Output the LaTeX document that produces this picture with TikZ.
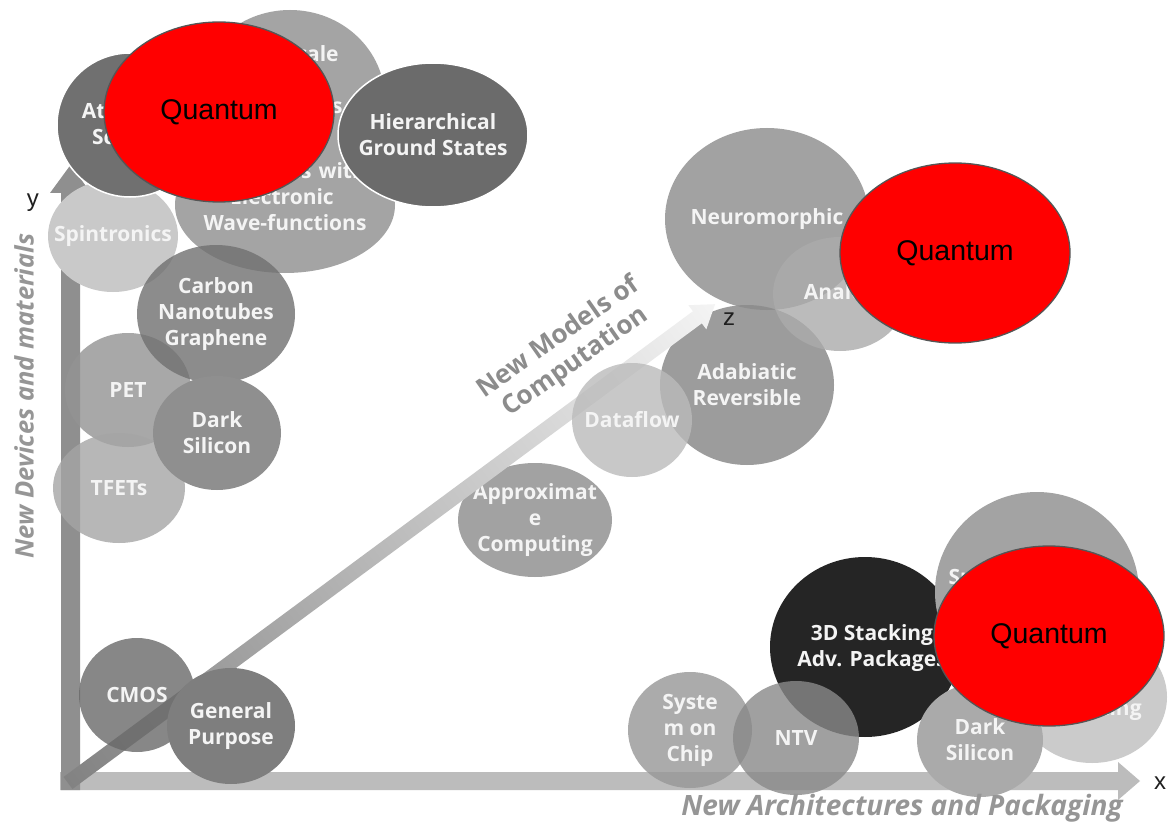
\documentclass[tikz,border=0pt]{standalone}
\usepackage{fontspec}
\setmainfont{Open Sans}
\newfontfamily\qfont{Liberation Sans}
\usetikzlibrary{shapes.geometric}

% grey levels of the bubbles
\definecolor{bubtext}{RGB}{244,244,244}
\definecolor{qedge}{RGB}{85,85,85}
\definecolor{xaxis}{RGB}{188,188,188}
\definecolor{yaxis}{RGB}{143,143,143}
\definecolor{zdark}{RGB}{130,130,130}
\definecolor{zlight}{RGB}{244,244,244}
\definecolor{axisgray}{RGB}{150,150,150}
\definecolor{modelgray}{RGB}{140,140,140}
\definecolor{cAtomic}{RGB}{112,112,112}
\definecolor{cLight}{RGB}{164,164,164}
\definecolor{cHier}{RGB}{107,107,107}
\definecolor{cSpin}{RGB}{201,201,201}
\definecolor{cCarbon}{RGB}{112,112,112}
\definecolor{cPET}{RGB}{147,147,147}
\definecolor{cDarkL}{RGB}{143,143,143}
\definecolor{cTFET}{RGB}{165,165,165}
\definecolor{cCMOS}{RGB}{105,105,105}
\definecolor{cGP}{RGB}{126,126,126}
\definecolor{cApprox}{RGB}{139,139,139}
\definecolor{cData}{RGB}{187,187,187}
\definecolor{cAdab}{RGB}{132,132,132}
\definecolor{cNeuro}{RGB}{139,139,139}
\definecolor{cAnalog}{RGB}{171,171,171}
\definecolor{cSoC}{RGB}{151,151,151}
\definecolor{cNTV}{RGB}{137,137,137}
\definecolor{c3D}{RGB}{37,37,37}
\definecolor{cSuper}{RGB}{163,163,163}
\definecolor{cCryo}{RGB}{190,190,190}
\definecolor{cDarkR}{RGB}{170,170,170}

\tikzset{
  blob/.style={ellipse, inner sep=0pt, outer sep=0pt},
  lbl/.style={font=\bfseries\fontsize{21}{26}\selectfont, text=bubtext, align=center, inner sep=0pt},
  quantum/.style={ellipse, draw=qedge, line width=1.3pt, fill=red, text=black,
    font=\qfont\fontsize{28.5}{32}\selectfont, inner sep=0pt,
    minimum width=230pt, minimum height=180pt},
  axislbl/.style={font=\bfseries\itshape, text=axisgray, inner sep=0pt},
  letter/.style={font=\qfont\fontsize{24}{26}\selectfont, text=black!88, inner sep=0pt},
}

% name, x, y, x radius, y radius, fill, fill opacity, text
\newcommand{\drawbubble}[8]{%
  \node[blob, fill=#6, fill opacity=#7, minimum width={2*#4pt}, minimum height={2*#5pt}] (#1) at (#2,#3) {};
  \node[lbl] (#1-t) at (#1.center) {#8};}

\begin{document}
\begin{tikzpicture}[x=1pt, y=-1pt]
\useasboundingbox (0,0) rectangle (1168,824);
\fill[white] (0,0) rectangle (1168,824);

% x axis
\fill[xaxis] (60,772) -- (1118,772) -- (1118,762) -- (1140,781) -- (1118,800) -- (1118,790) -- (60,790) -- cycle;
% y axis
\fill[yaxis] (61,790) -- (61,193) -- (50,193) -- (70.5,165) -- (91,193) -- (80,193) -- (80,790) -- cycle;

% devices and materials
\drawbubble{spin}{113}{236}{65}{56}{cSpin}{1}{Spintronics}
\node[blob, fill=cLight, minimum width=190pt, minimum height=180pt] (nano) at (290,100) {};
\node[lbl] (nano-t) at (284,80) {Nanoscale\\Devices\\Assemblies};
\node[blob, fill=cLight, minimum width=220pt, minimum height=136pt] (wave) at (285,205) {};
\node[lbl, text width=200pt] (wave-t) at (285,197) {\hspace*{2pt}Molecules with\\\hspace*{-6pt}Electronic\\Wave-functions};
\node[blob, fill=cAtomic, draw=white, line width=1.5pt, minimum width=146pt, minimum height=144pt] (atomic) at (130,125) {};
\node[lbl] (atomic-t) at (119,124) {Atomic\\Scale};
\node[blob, fill=cHier, draw=white, line width=1.5pt, minimum width=190pt, minimum height=144pt] (hier) at (433,135) {};
\node[lbl] (hier-t) at (hier.center) {Hierarchical\\Ground States};
\drawbubble{pet}{128}{390}{63}{57}{cPET}{0.8}{PET}
\drawbubble{tfet}{119}{488}{66}{55}{cTFET}{0.8}{TFETs}
\drawbubble{carbon}{216}{314}{79}{69}{cCarbon}{0.8}{Carbon\\Nanotubes\\Graphene}
\drawbubble{darkl}{217}{433}{64}{57}{cDarkL}{1}{Dark\\Silicon}

% models of computation
\drawbubble{approx}{535}{520}{77}{57}{cApprox}{0.8}{Approximat\\e\\Computing}
\drawbubble{adab}{747}{385}{87}{80}{cAdab}{0.8}{Adabiatic\\Reversible}
\drawbubble{neuro}{767}{219}{102}{91}{cNeuro}{0.8}{Neuromorphic}
\drawbubble{analog}{840}{294}{67}{57}{cAnalog}{0.8}{Analog}

% z axis, shaded along its length
\begin{scope}[transform canvas={shift={(68,783)}, rotate=36.5}]
  \shade[left color=zdark, right color=zlight]
    (0,-7.5) -- (783,-7.5) -- (783,-15) -- (805,0) -- (783,15) -- (783,7.5) -- (0,7.5) -- cycle;
\end{scope}

\drawbubble{data}{632}{420}{60}{57}{cData}{0.8}{Dataflow}
\node[font=\bfseries\fontsize{26}{30}\selectfont, text=modelgray, align=center, rotate=35, inner sep=0pt] (models) at (567,350) {New Models of\\Computation};

\drawbubble{cmos}{137}{695}{58}{57}{cCMOS}{0.8}{CMOS}
\drawbubble{gp}{231}{726}{64}{58}{cGP}{1}{General\\Purpose}

% architectures and packaging
\drawbubble{soc}{690}{730}{62}{58}{cSoC}{0.8}{Syste\\m on\\Chip}
\node[blob, fill=c3D, minimum width=190pt, minimum height=180pt] (stack) at (865,647) {};
\node[lbl] (stack-t) at (872,648) {3D Stacking\\Adv. Packages};
\drawbubble{ntv}{796}{738}{63}{57}{cNTV}{0.8}{NTV}
\drawbubble{super}{1037}{592}{102}{100}{cSuper}{1}{Superconducting\\Logic}
\node[blob, fill=cCryo, fill opacity=0.8, minimum width=150pt, minimum height=132pt] (cryo) at (1092,697) {};
\node[lbl] (cryo-t) at (1084,697) {Cryogenic\\Computing};
\drawbubble{darkr}{980}{740}{63}{57}{cDarkR}{1}{Dark\\Silicon}

% quantum
\node[quantum] (q1) at (219,112) {Quantum};
\node[quantum] (q2) at (955,253) {Quantum};
\node[quantum] (q3) at (1049,636) {Quantum};

% axis names
\node[letter] (ylab) at (33,203) {y};
\node[letter] (xlab) at (1160,783) {x};
\node[letter] (zlab) at (729,319) {z};
\node[axislbl, font=\bfseries\itshape\fontsize{25.5}{28}\selectfont, rotate=90] (ytitle) at (24,396) {New Devices and materials};
\node[axislbl, font=\bfseries\itshape\fontsize{28}{30}\selectfont] (xtitle) at (902,808) {New Architectures and Packaging};
\end{tikzpicture}
\end{document}
